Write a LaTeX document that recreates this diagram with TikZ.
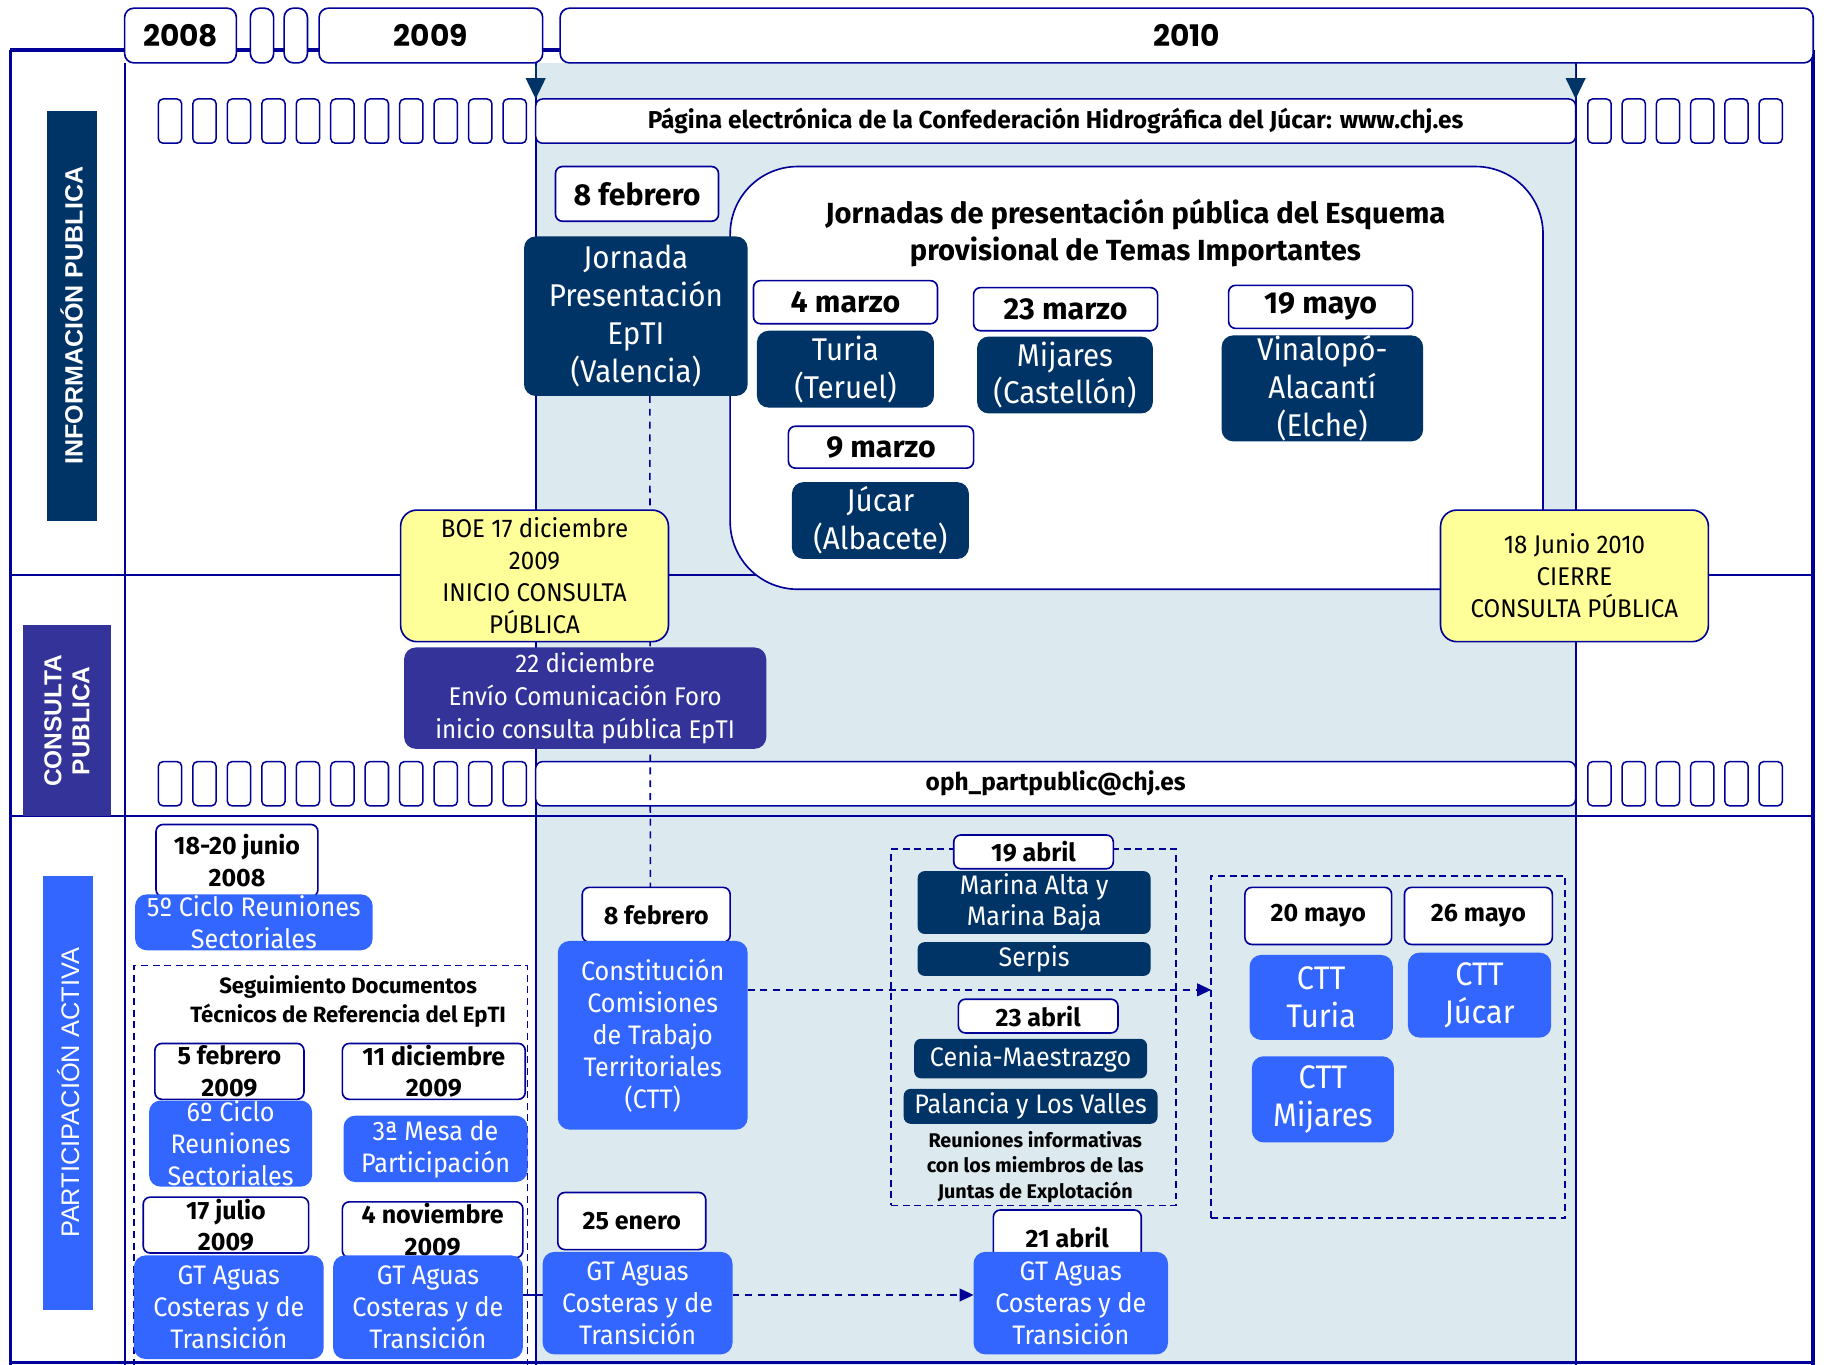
\documentclass[tikz,border=0pt]{standalone}
\usepackage{fontspec}
\setmainfont{Fira Sans}[FakeStretch=0.94, BoldFeatures={FakeStretch=1.0}]
\newfontfamily\yearfont{Poppins}
\newfontfamily\sidefont{Liberation Sans}
\usetikzlibrary{arrows.meta}
\definecolor{navy}{RGB}{0,51,102}
\definecolor{edge}{RGB}{0,0,153}
\definecolor{bluebx}{RGB}{51,102,255}
\definecolor{purp}{RGB}{51,51,153}
\definecolor{yel}{RGB}{255,255,153}
\definecolor{bgblue}{RGB}{220,234,240}
\newcommand\bx[7]{\node[#2, minimum width={#5-#3}, minimum height={#6-#4}] (#1) at ({(#3+#5)/2},{(#4+#6)/2}) {#7};}
\tikzset{
  base/.style={inner sep=0pt, outer sep=0pt, align=center},
  yearbox/.style={base, draw=edge, line width=1.4pt, fill=white, rounded corners=8pt, font=\yearfont\bfseries\fontsize{25.5}{28}\selectfont},
  smallbox/.style={base, draw=edge, line width=1.3pt, fill=white, rounded corners=4pt, minimum width=20pt, minimum height=38pt},
  longbox/.style={base, draw=edge, line width=1.3pt, fill=white, rounded corners=6pt, font=\bfseries\fontsize{21}{24}\selectfont},
  datebox/.style={base, draw=edge, line width=1.4pt, fill=white, rounded corners=6pt, font=\bfseries\fontsize{26}{30}\selectfont},
  datesm/.style={datebox, font=\bfseries\fontsize{21.5}{27}\selectfont},
  navybox/.style={base, fill=navy, text=white, rounded corners=10pt, font=\fontsize{27}{32.5}\selectfont},
  navysm/.style={navybox, rounded corners=6pt, font=\fontsize{23}{27}\selectfont},
  bluebox/.style={base, fill=bluebx, text=white, rounded corners=10pt, font=\fontsize{23}{27.5}\selectfont},
  cttbox/.style={bluebox, font=\fontsize{28}{33}\selectfont},
  yelbox/.style={base, draw=edge, line width=1.4pt, fill=yel, rounded corners=14pt, font=\fontsize{22}{27.5}\selectfont},
  purpbox/.style={base, fill=purp, text=white, rounded corners=10pt, font=\fontsize{22}{28}\selectfont},
  grpbox/.style={base, draw=edge, line width=1.3pt, dash pattern=on 6pt off 4pt},
  sidelab/.style={base, text=white, rotate=90, font=\sidefont\bfseries\fontsize{21.5}{24}\selectfont},
  frameline/.style={edge, line width=1.6pt},
  conn/.style={edge, line width=1.4pt, dash pattern=on 6pt off 5pt},
  topline/.style={navy, line width=1.4pt, -{Triangle[length=18pt,width=17pt]}},
  plaintext/.style={base, font=\bfseries\fontsize{17}{22}\selectfont}
}
\begin{document}
\begin{tikzpicture}[x=1pt,y=-1pt]
\useasboundingbox (0,0) rectangle (1568,1172);
\fill[white] (0,0) rectangle (1568,1172);
\fill[bgblue] (460,54) rectangle (1353,1172);
% frame
\draw[edge, line width=3.5pt] (9,43) -- (1557,43);
\draw[edge, line width=3pt] (9,43) -- (9,1172);
\draw[edge, line width=3pt] (1557,43) -- (1557,1172);
\draw[edge, line width=2.5pt] (9,1170) -- (1557,1170);
\draw[frameline] (107,54) -- (107,1172);
\draw[frameline] (460,54) -- (460,1172);
\draw[frameline] (1353,54) -- (1353,1172);
\draw[frameline] (9,494) -- (1557,494);
\draw[frameline] (9,701) -- (1557,701);
% years
\bx{y2008}{yearbox}{107}{7}{203}{54}{2008}
\bx{ys1}{yearbox}{215}{7}{235}{54}{}
\bx{ys2}{yearbox}{244}{7}{264}{54}{}
\bx{y2009}{yearbox}{274}{7}{466}{54}{2009}
\bx{y2010}{yearbox}{481}{7}{1557}{54}{2010}
% side labels
\node[sidelab, fill=navy, minimum width=352, minimum height=43] (infl) at (61.5,271) {INFORMACIÓN PUBLICA};
\node[sidelab, fill=purp, minimum width=164, minimum height=75, font=\sidefont\bfseries\fontsize{21}{24}\selectfont] (consl) at (57.5,619) {CONSULTA\\PUBLICA};
\node[sidelab, fill=bluebx, minimum width=373, minimum height=43, font=\sidefont\fontsize{21.8}{24}\selectfont] (partl) at (58.5,938.5) {PARTICIPACIÓN ACTIVA};
% small boxes rows
\foreach \i in {0,...,10} {
  \node[smallbox] (sa\i) at ({146+29.6*\i},104) {};
  \node[smallbox] (sc\i) at ({146+29.6*\i},673) {};
}
\foreach \i in {0,...,5} {
  \node[smallbox] (sb\i) at ({1373.5+29.4*\i},104) {};
  \node[smallbox] (sd\i) at ({1373.5+29.4*\i},673) {};
}
\bx{pagina}{longbox}{460}{85}{1353}{123}{Página electrónica de la Confederación Hidrográfica del Júcar: www.chj.es}
\bx{oph}{longbox}{460}{654}{1353}{692}{oph\_partpublic@chj.es}
\coordinate (a1) at (460,56);
\coordinate (a2) at (1353,56);
\draw[topline] (a1) -- (pagina.north -| a1);
\draw[topline] (a2) -- (pagina.north -| a2);
% big jornadas box
\node[base, draw=edge, line width=1.4pt, fill=white, rounded corners=58pt, minimum width=698, minimum height=363] (jorn) at (976,324.5) {};
\node[base, font=\bfseries\fontsize{25}{32}\selectfont] (jornt) at (975,200) {Jornadas de presentación pública del Esquema\\provisional de Temas Importantes};
% info section
\bx{feb1}{datebox}{477}{143}{617}{190}{8 febrero}
\bx{jval}{navybox}{450}{203}{642}{340}{Jornada\\Presentación\\EpTI\\(Valencia)}
\bx{mar4}{datebox}{647}{241}{805}{278}{4 marzo}
\bx{turia}{navybox}{650}{284}{802}{350}{Turia\\(Teruel)}
\bx{mar23}{datebox}{836}{247}{994}{284}{23 marzo}
\bx{mijares}{navybox}{839}{289}{990}{355}{Mijares\\(Castellón)}
\bx{may19}{datebox}{1055}{245}{1213}{282}{19 mayo}
\bx{vina}{navybox}{1049}{288}{1222}{379}{Vinalopó-\\Alacantí\\(Elche)}
\bx{mar9}{datebox}{677}{366}{836}{402}{9 marzo}
\bx{jucar}{navybox}{680}{414}{832}{480}{Júcar\\(Albacete)}
% dashed vertical connector
\bx{feb2}{datesm}{500}{762}{627}{809}{8 febrero}
\draw[conn] ([xshift=12pt]jval.south) -- ([xshift=-5pt]feb2.north);
% consulta
\bx{boe}{yelbox}{344}{438}{574}{551}{BOE 17 diciembre\\2009\\INICIO CONSULTA\\PÚBLICA}
\bx{cierre}{yelbox}{1237}{438}{1467}{551}{18 Junio 2010\\CIERRE\\CONSULTA PÚBLICA}
\bx{foro}{purpbox}{347}{556}{658}{643}{22 diciembre\\Envío Comunicación Foro\\inicio consulta pública EpTI}
% participacion left
\bx{jun}{datesm}{134}{708}{273}{770}{18-20 junio\\2008}
\bx{ciclo5}{bluebox}{116}{768}{320}{816}{5º Ciclo Reuniones\\Sectoriales}
\bx{grp1}{grpbox}{115}{829}{453}{1175}{}
\node[plaintext, font=\bfseries\fontsize{19}{25}\selectfont] (segt) at (299,860) {Seguimiento Documentos\\Técnicos de Referencia del EpTI};
\bx{feb5}{datesm}{133}{896}{261}{944}{5 febrero\\2009}
\bx{ciclo6}{bluebox}{128}{945}{268}{1019}{6º Ciclo\\Reuniones\\Sectoriales}
\bx{dic11}{datesm}{294}{896}{451}{944}{11 diciembre\\2009}
\bx{mesa}{bluebox}{295}{958}{453}{1015}{3ª Mesa de\\Participación}
\bx{jul17}{datesm}{123}{1028}{265}{1076}{17 julio\\2009}
\bx{gt1}{bluebox}{115}{1078}{278}{1167}{GT Aguas\\Costeras y de\\Transición}
\bx{nov4}{datesm}{294}{1032}{449}{1080}{4 noviembre\\2009}
\bx{gt2}{bluebox}{286}{1078}{449}{1167}{GT Aguas\\Costeras y de\\Transición}
% participacion 2010
\bx{ctt}{bluebox}{479}{808}{642}{970}{Constitución\\Comisiones\\de Trabajo\\Territoriales\\(CTT)}
\bx{grp2}{grpbox}{765}{729}{1010}{1035}{}
\bx{abr19}{datesm}{819}{717}{956}{746}{19 abril}
\bx{marina}{navysm}{788}{748}{988}{802}{Marina Alta y\\Marina Baja}
\bx{serpis}{navysm}{788}{809}{988}{838}{Serpis}
\bx{abr23}{datesm}{823}{858}{960}{887}{23 abril}
\bx{cenia}{navysm}{785}{892}{985}{926}{Cenia-Maestrazgo}
\bx{palancia}{navysm}{776}{935}{994}{965}{Palancia y Los Valles}
\node[plaintext] (reun) at (889,1002) {Reuniones informativas\\con los miembros de las\\Juntas de Explotación};
\bx{grp3}{grpbox}{1040}{752}{1344}{1046}{}
\bx{may20}{datesm}{1069}{762}{1195}{811}{20 mayo}
\bx{may26}{datesm}{1206}{762}{1333}{811}{26 mayo}
\bx{ctturia}{cttbox}{1073}{820}{1196}{893}{CTT\\Turia}
\bx{cttjucar}{cttbox}{1209}{818}{1332}{891}{CTT\\Júcar}
\bx{cttmij}{cttbox}{1075}{907}{1197}{981}{CTT\\Mijares}
\bx{ene25}{datesm}{479}{1024}{606}{1073}{25 enero}
\bx{gt3}{bluebox}{466}{1075}{629}{1163}{GT Aguas\\Costeras y de\\Transición}
\bx{abr21}{datesm}{853}{1039}{980}{1086}{21 abril}
\bx{gt4}{bluebox}{836}{1075}{1003}{1163}{GT Aguas\\Costeras y de\\Transición}
% connectors
\draw[conn, -{Triangle[length=12pt,width=11pt]}] (ctt.east |- 0,850) -- (grp3.west |- 0,850);
\draw[conn, -{Triangle[length=12pt,width=11pt]}] (gt3.east |- 0,1112) -- (gt4.west |- 0,1112);
\draw[edge, line width=1.2pt] (gt2.east |- 0,1112) -- (gt3.west |- 0,1112);
\end{tikzpicture}
\end{document}
